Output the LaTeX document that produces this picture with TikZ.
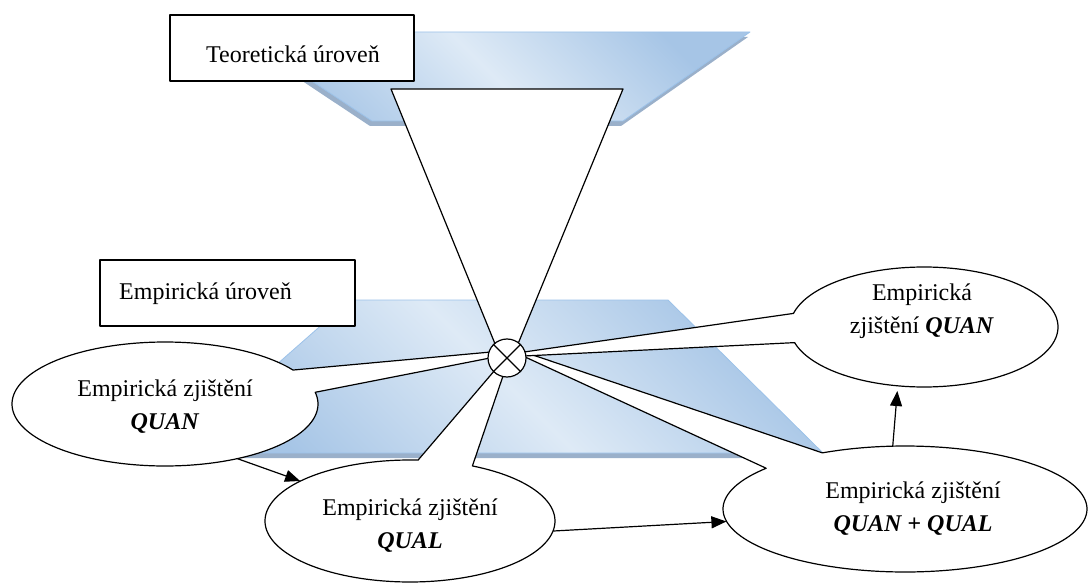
\documentclass[tikz,border=0pt]{standalone}
\usepackage{fontspec}
\setmainfont{Liberation Serif}
\usetikzlibrary{arrows.meta,shapes.geometric}
\definecolor{pl}{HTML}{DEEAF6}
\definecolor{pd}{HTML}{A6C5E6}
\definecolor{pedge}{HTML}{9CC2E9}
\definecolor{psh}{HTML}{9AB0CA}
\begin{document}
\begin{tikzpicture}[x=1pt,y=-1pt, line join=round,
  txt/.style={font=\fontsize{24}{33}\selectfont, align=center, inner sep=0pt},
  shp/.style={shape=ellipse, inner sep=0pt, draw=none},
  callout/.style={fill=white, draw=black, line width=1.2pt},
  arr/.style={line width=1.2pt, -{Triangle[length=15pt,width=12pt]}},
  boxst/.style={draw=black, fill=white, line width=1.3pt},
  plane/.style={top color=pd, bottom color=pd, middle color=pl, shading angle=-45, draw=pedge, line width=0.8pt}
]
\useasboundingbox (0,0) rectangle (1090,583);

% theoretical plane
\fill[psh] (236,37) -- (748,37) -- (621,126) -- (370,126) -- cycle;
\shadedraw[plane] (238,32) -- (750,32) -- (623,121) -- (372,121) -- cycle;

% empirical plane
\fill[psh] (350,304) -- (668,304) -- (823,458) -- (176,458) -- cycle;
\shadedraw[plane] (350,300) -- (668,300) -- (823,453) -- (176,453) -- cycle;

% funnel
\draw[fill=white, line width=1.2pt] (391,89) -- (623,89) -- (513,356) -- (500,356) -- cycle;

% level boxes
\draw[boxst] (170,15) rectangle (414,81);
\node[txt, anchor=base] (teo) at (293,63) {Teoretická úroveň};
\draw[boxst] (100,260) rectangle (355,326);
\node[txt, anchor=base west] (emp) at (119,299) {Empirická úroveň};

% callouts
\draw[callout] (490,358) -- plot[domain=-10.9:326.8, samples=150, variable=\t] ({165+153*cos(\t)},{404+62*sin(\t)}) -- (491,352) -- cycle;
\draw[callout] (503,376) -- plot[domain=-64.5:273.2, samples=150, variable=\t] ({410+145*cos(\t)},{521+61*sin(\t)}) -- (495,370) -- cycle;
\draw[callout] (524,352) -- plot[domain=-117:220.3, samples=150, variable=\t] ({905+182*cos(\t)},{509+63*sin(\t)}) -- (523,356) -- cycle;
\draw[callout] (524,352) -- plot[domain=193.1:524.9, samples=150, variable=\t] ({924+134*cos(\t)},{327+60*sin(\t)}) -- (524,356) -- cycle;

% hub
\node[circle, draw, fill=white, line width=1.2pt, minimum size=38pt, inner sep=0pt] (hub) at (507,358) {};
\draw[line width=1.2pt] (hub.45) -- (hub.225);
\draw[line width=1.2pt] (hub.135) -- (hub.-45);

% ellipse shapes (for anchors)
\node[shp, minimum width=306pt, minimum height=124pt] (e1) at (165,404) {};
\node[shp, minimum width=290pt, minimum height=122pt] (e2) at (410,521) {};
\node[shp, minimum width=364pt, minimum height=126pt] (e3) at (905,509) {};
\node[shp, minimum width=268pt, minimum height=120pt] (e4) at (924,327) {};

% texts
\node[txt] (t1) at (165,406.5) {Empirická zjištění\\\textbf{\textit{QUAN}}};
\node[txt] (t2) at (410,525.5) {Empirická zjištění\\\textbf{\textit{QUAL}}};
\node[txt] (t3) at (913,509) {Empirická zjištění\\\textbf{\textit{QUAN + QUAL}}};
\node[txt] (t4) at (922,311.5) {Empirická\\zjištění \textbf{\textit{QUAN}}};

% arrows
\draw[arr] (e1.-37) -- (e2.160);
\draw[arr] (e2.-4) -- (e3.184);
\draw[arr, shorten >=5pt] (e3.101) -- (e4.246);
\end{tikzpicture}
\end{document}
